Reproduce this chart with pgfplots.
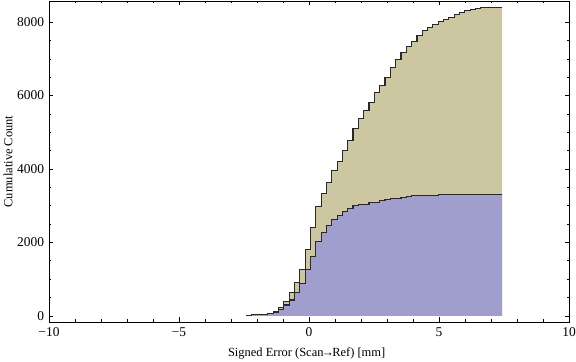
\documentclass[border=0pt]{standalone}
\usepackage{fontspec}
\setmainfont{Liberation Serif}
\usepackage{pgfplots}
\usepackage{pgfplotstable}
\pgfplotsset{compat=1.18}
\definecolor{tanfill}{RGB}{204,199,161}
\definecolor{bluefill}{RGB}{160,158,204}
\definecolor{stepline}{RGB}{40,40,40}

\pgfplotstableread{
x y
-2.404 3
-2.199 27
-1.994 27
-1.789 27
-1.584 64
-1.380 115
-1.175 236
-0.970 380
-0.765 645
-0.560 917
-0.355 1253
-0.150 1816
0.055 2415
0.260 2988
0.465 3342
0.670 3642
0.874 3969
1.079 4210
1.284 4495
1.489 4785
1.694 5094
1.899 5366
2.104 5584
2.309 5820
2.514 6093
2.718 6283
2.923 6502
3.128 6774
3.333 6992
3.538 7183
3.743 7346
3.948 7482
4.153 7637
4.358 7782
4.562 7864
4.767 7927
4.972 8009
5.177 8082
5.382 8136
5.587 8209
5.792 8272
5.997 8308
6.202 8336
6.406 8363
6.611 8408
6.816 8408
7.021 8408
7.226 8408
7.431 8408
}\total

\pgfplotstableread{
x y
-2.404 3
-2.199 27
-1.994 27
-1.789 27
-1.584 64
-1.380 95
-1.175 182
-0.970 295
-0.765 430
-0.560 640
-0.355 890
-0.150 1253
0.055 1616
0.260 2016
0.465 2261
0.670 2452
0.874 2615
1.079 2740
1.284 2842
1.489 2924
1.694 2996
1.899 3042
2.104 3042
2.309 3097
2.514 3097
2.718 3133
2.923 3160
3.128 3187
3.333 3187
3.538 3223
3.743 3251
3.948 3269
4.153 3269
4.358 3287
4.562 3287
4.767 3287
4.972 3314
5.177 3314
5.382 3314
5.587 3314
5.792 3314
5.997 3314
6.202 3314
6.406 3314
6.611 3314
6.816 3314
7.021 3314
7.226 3314
7.431 3314
}\subset

\begin{document}
\begin{tikzpicture}
\begin{axis}[
  scale only axis,
  width=520bp, height=321bp,
  xmin=-10, xmax=10,
  ymin=-168, ymax=8576,
  no marks,
  axis line style={line width=0.7bp, black},
  tick align=inside,
  major tick length=4.5bp,
  minor tick length=2.5bp,
  every tick/.style={black, line width=0.6bp},
  xtick={-10,-5,0,5,10},
  xticklabels={−10,−5,0,5,10},
  minor x tick num=4,
  ytick={0,2000,4000,6000,8000},
  yticklabels={0,2000,4000,6000,8000},
  minor y tick num=3,
  tick label style={font=\fontsize{13.5}{15}\selectfont},
  xticklabel style={yshift=-2bp},
  yticklabel style={xshift=-1.5bp},
  xlabel={Signed Error (Scan\kern-1.8bp→\kern-1.8bp Ref) [mm]},
  ylabel={Cumulative Count},
  label style={font=\fontsize{12.5}{14}\selectfont},
  xlabel style={at={(axis description cs:0.4955,-0.109)}, anchor=base},
  ylabel style={at={(axis description cs:-0.0702,0.5)}, anchor=base},
]
\addplot[fill=tanfill, draw=none, const plot] table {\total} \closedcycle;
\addplot[fill=bluefill, draw=none, const plot] table {\subset} \closedcycle;
\addplot[stepline, line width=1.1bp, const plot] table {\total};
\addplot[stepline, line width=1.1bp, const plot] table {\subset};
\end{axis}
\pgfresetboundingbox
\path ([xshift=-49bp,yshift=-40bp]current axis.south west) rectangle ([xshift=7bp,yshift=1bp]current axis.north east);
\end{tikzpicture}
\end{document}
